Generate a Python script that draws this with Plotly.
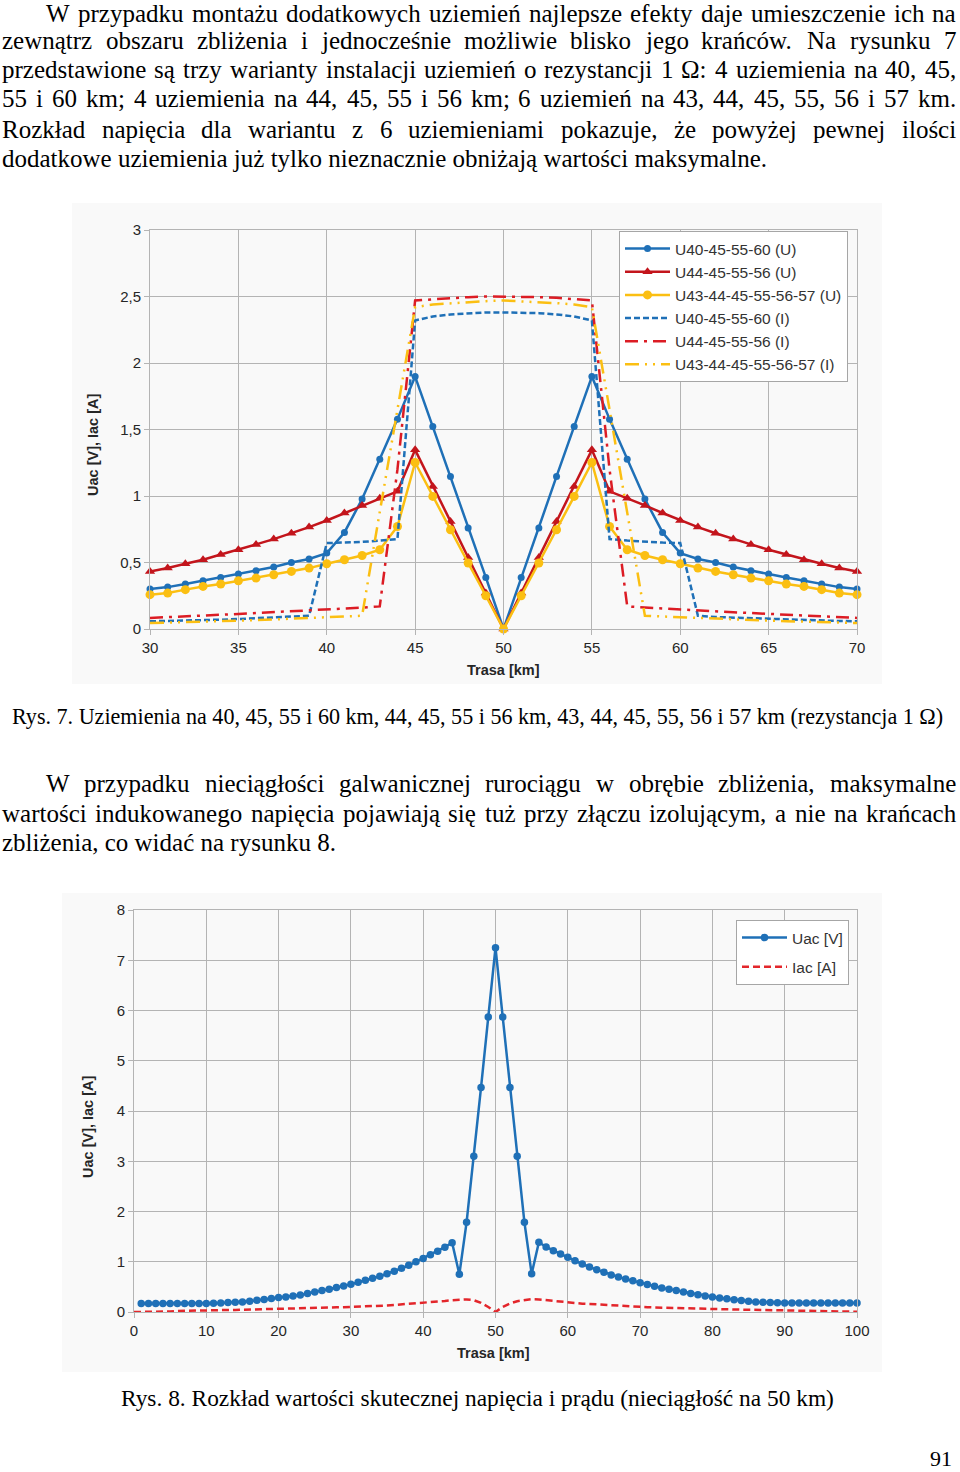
import plotly.graph_objects as go

W, H = 960, 1472

# ---------------- data: Rys. 7 ----------------
km_fig7 = list(range(30, 71))
u_40_45_55_60 = [0.30, 0.315, 0.338, 0.363, 0.388, 0.413, 0.438, 0.466, 0.50, 0.526, 0.571,
                 0.726, 0.977, 1.277, 1.578, 1.898, 1.523, 1.147, 0.759, 0.388, 0.0,
                 0.388, 0.759, 1.147, 1.523, 1.898, 1.578, 1.277, 0.977, 0.726, 0.571,
                 0.526, 0.50, 0.466, 0.438, 0.413, 0.388, 0.363, 0.338, 0.315, 0.30]
u_44_45_55_56 = [0.433, 0.458, 0.49, 0.521, 0.56, 0.596, 0.636, 0.676, 0.72, 0.766, 0.816,
                 0.872, 0.929, 0.984, 1.035, 1.347, 1.072, 0.809, 0.538, 0.27, 0.0,
                 0.27, 0.538, 0.809, 1.072, 1.347, 1.035, 0.984, 0.929, 0.872, 0.816,
                 0.766, 0.72, 0.676, 0.636, 0.596, 0.56, 0.521, 0.49, 0.458, 0.433]
u_43_57 = [0.258, 0.27, 0.296, 0.32, 0.338, 0.363, 0.383, 0.408, 0.433, 0.458, 0.491,
           0.521, 0.553, 0.596, 0.771, 1.252, 0.997, 0.746, 0.496, 0.25, 0.0,
           0.25, 0.496, 0.746, 0.997, 1.252, 0.771, 0.596, 0.553, 0.521, 0.491,
           0.458, 0.433, 0.408, 0.383, 0.363, 0.338, 0.32, 0.296, 0.27, 0.258]
i_40_45_55_60 = [0.058, 0.06, 0.062, 0.065, 0.07, 0.075, 0.08, 0.085, 0.09, 0.10, 0.646,
                 0.65, 0.655, 0.665, 0.676, 2.32, 2.35, 2.365, 2.375, 2.38, 2.38,
                 2.38, 2.375, 2.365, 2.35, 2.32, 0.676, 0.665, 0.655, 0.65, 0.646,
                 0.10, 0.09, 0.085, 0.08, 0.075, 0.07, 0.065, 0.062, 0.06, 0.058]
i_44_45_55_56 = [0.083, 0.088, 0.094, 0.10, 0.106, 0.113, 0.12, 0.126, 0.132, 0.138, 0.145,
                 0.153, 0.161, 0.17, 1.2, 2.47, 2.48, 2.49, 2.495, 2.50, 2.50,
                 2.50, 2.495, 2.49, 2.48, 2.47, 1.2, 0.17, 0.161, 0.153, 0.145,
                 0.138, 0.132, 0.126, 0.12, 0.113, 0.106, 0.10, 0.094, 0.088, 0.083]
i_43_57 = [0.045, 0.048, 0.052, 0.055, 0.059, 0.063, 0.067, 0.072, 0.077, 0.082, 0.088,
           0.094, 0.10, 0.88, 1.65, 2.42, 2.44, 2.45, 2.46, 2.465, 2.47,
           2.465, 2.46, 2.45, 2.44, 2.42, 1.65, 0.88, 0.10, 0.094, 0.088,
           0.082, 0.077, 0.072, 0.067, 0.063, 0.059, 0.055, 0.052, 0.048, 0.045]
names_fig7 = ["U40-45-55-60 (U)", "U44-45-55-56 (U)", "U43-44-45-55-56-57 (U)",
              "U40-45-55-60 (I)", "U44-45-55-56 (I)", "U43-44-45-55-56-57 (I)"]
y7_ticks = [0, 0.5, 1, 1.5, 2, 2.5, 3]
y7_labels = ["0", "0,5", "1", "1,5", "2", "2,5", "3"]
x7_ticks = [30, 35, 40, 45, 50, 55, 60, 65, 70]

# ---------------- data: Rys. 8 ----------------
km_uac = list(range(1, 101))
uac = [0.167, 0.167, 0.167, 0.167, 0.167, 0.167, 0.168, 0.168, 0.17, 0.17,
       0.175, 0.18, 0.187, 0.193, 0.2, 0.215, 0.233, 0.25, 0.267, 0.287,
       0.30, 0.32, 0.34, 0.367, 0.40, 0.427, 0.455, 0.487, 0.515, 0.55,
       0.59, 0.63, 0.67, 0.71, 0.76, 0.81, 0.87, 0.93, 1.0, 1.067,
       1.14, 1.21, 1.29, 1.38, 0.75, 1.785, 3.10, 4.47, 5.87, 7.25,
       5.87, 4.47, 3.10, 1.785, 0.76, 1.387, 1.294, 1.22, 1.155, 1.088,
       1.02, 0.955, 0.896, 0.843, 0.79, 0.737, 0.697, 0.657, 0.62, 0.58,
       0.545, 0.51, 0.48, 0.455, 0.43, 0.40, 0.37, 0.345, 0.32, 0.30,
       0.28, 0.262, 0.245, 0.228, 0.212, 0.20, 0.195, 0.19, 0.185, 0.18,
       0.18, 0.18, 0.18, 0.18, 0.18, 0.18, 0.18, 0.18, 0.18, 0.18]
km_iac = list(range(0, 101))
iac = [0.0, 0.0, 0.0, 0.0, 0.005, 0.01, 0.02, 0.025, 0.03, 0.03, 0.033,
       0.035, 0.038, 0.04, 0.042, 0.045, 0.047, 0.05, 0.052, 0.053, 0.055,
       0.06, 0.065, 0.07, 0.075, 0.08, 0.085, 0.09, 0.093, 0.097, 0.10,
       0.105, 0.11, 0.115, 0.12, 0.13, 0.14, 0.15, 0.16, 0.17, 0.187,
       0.20, 0.21, 0.22, 0.235, 0.245, 0.25, 0.235, 0.18, 0.10, 0.0,
       0.10, 0.17, 0.215, 0.24, 0.255, 0.25, 0.235, 0.215, 0.195, 0.18,
       0.17, 0.165, 0.16, 0.15, 0.145, 0.135, 0.125, 0.115, 0.105, 0.10,
       0.095, 0.09, 0.085, 0.08, 0.075, 0.072, 0.07, 0.065, 0.062, 0.06,
       0.057, 0.054, 0.05, 0.048, 0.045, 0.043, 0.04, 0.037, 0.035, 0.033,
       0.03, 0.027, 0.022, 0.015, 0.008, 0.005, 0.005, 0.005, 0.005, 0.005]
x8_ticks = [0, 10, 20, 30, 40, 50, 60, 70, 80, 90, 100]
y8_ticks = [0, 1, 2, 3, 4, 5, 6, 7, 8]

# ---------------- text ----------------
para1 = [
    "W przypadku montażu dodatkowych uziemień najlepsze efekty daje umieszczenie ich na",
    "zewnątrz obszaru zbliżenia i jednocześnie możliwie blisko jego krańców. Na rysunku 7",
    "przedstawione są trzy warianty instalacji uziemień o rezystancji 1 Ω: 4 uziemienia na 40, 45,",
    "55 i 60 km; 4 uziemienia na 44, 45, 55 i 56 km; 6 uziemień na 43, 44, 45, 55, 56 i 57 km.",
    "Rozkład napięcia dla wariantu z 6 uziemieniami pokazuje, że powyżej pewnej ilości",
    "dodatkowe uziemienia już tylko nieznacznie obniżają wartości maksymalne.",
]
para2 = [
    "W przypadku nieciągłości galwanicznej rurociągu w obrębie zbliżenia, maksymalne",
    "wartości indukowanego napięcia pojawiają się tuż przy złączu izolującym, a nie na krańcach",
    "zbliżenia, co widać na rysunku 8.",
]
caption7 = "Rys. 7. Uziemienia na 40, 45, 55 i 60 km, 44, 45, 55 i 56 km, 43, 44, 45, 55, 56 i 57 km (rezystancja 1 Ω)"
caption8 = "Rys. 8. Rozkład wartości skutecznej napięcia i prądu (nieciągłość na 50 km)"
page_no = "91"

SERIF = "Liberation Serif"
SANS = "Liberation Sans"

def px_x(p):
    return p / W

def px_y(p):
    return 1 - p / H

# Times metrics (per 1000 em) for justification
TW = {' ': 250, ',': 250, '.': 250, ':': 278, ';': 278, '(': 333, ')': 333, 'Ω': 768,
      'a': 444, 'b': 500, 'c': 444, 'd': 500, 'e': 444, 'f': 333, 'g': 500, 'h': 500,
      'i': 278, 'j': 278, 'k': 500, 'l': 278, 'm': 778, 'n': 500, 'o': 500, 'p': 500,
      'q': 500, 'r': 333, 's': 389, 't': 278, 'u': 500, 'v': 500, 'w': 722, 'x': 500,
      'y': 500, 'z': 444, 'ą': 444, 'ę': 444, 'ć': 444, 'ł': 278, 'ń': 500, 'ó': 500,
      'ś': 389, 'ź': 444, 'ż': 444, 'W': 944, 'N': 722, 'R': 667, 'U': 722}

def tw(s, size):
    return sum(TW.get(c, 500) for c in s) / 1000 * size

annotations = []

def add_line(text, left, right, ypx, size, justify):
    if not justify:
        annotations.append(dict(text=text, x=px_x(left), y=px_y(ypx), xref="paper", yref="paper",
                                xanchor="left", yanchor="middle", showarrow=False, borderpad=0,
                                font=dict(family=SERIF, size=size, color="black")))
        return
    words = text.split(" ")
    widths = [tw(w, size) for w in words]
    gap = (right - left - sum(widths)) / (len(words) - 1)
    x = left
    for w, wd in zip(words, widths):
        annotations.append(dict(text=w, x=px_x(x), y=px_y(ypx), xref="paper", yref="paper",
                                xanchor="left", yanchor="middle", showarrow=False, borderpad=0,
                                font=dict(family=SERIF, size=size, color="black")))
        x += wd + gap

BODY = 25
LEFT = 1
p1_y = [13, 41, 70, 99, 129, 158]
for i, (line, y) in enumerate(zip(para1, p1_y)):
    add_line(line, 45 if i == 0 else LEFT, 955, y, BODY, i < len(para1) - 1)
p2_y = [783, 813, 842]
for i, (line, y) in enumerate(zip(para2, p2_y)):
    add_line(line, 45 if i == 0 else LEFT, 955, y, BODY, i < len(para2) - 1)

for txt, y, sz in [(caption7, 716, 22.1), (caption8, 1398, 23.4)]:
    annotations.append(dict(text=txt, x=px_x(477.5), y=px_y(y), xref="paper", yref="paper",
                            xanchor="center", yanchor="middle", showarrow=False,
                            font=dict(family=SERIF, size=sz, color="black")))
annotations.append(dict(text=page_no, x=px_x(953), y=px_y(1458), xref="paper", yref="paper",
                        xanchor="right", yanchor="middle", showarrow=False, borderpad=0,
                        font=dict(family=SERIF, size=22, color="black")))

# axis titles
AX_FONT = dict(family=SANS, size=14.5, color="#262626")
for txt, x, y, ang in [("<b>Trasa [km]</b>", 503, 670, 0), ("<b>Uac [V], Iac [A]</b>", 93, 445, -90),
                       ("<b>Trasa [km]</b>", 494, 1353, 0), ("<b>Uac [V], Iac [A]</b>", 88, 1127, -90)]:
    annotations.append(dict(text=txt, x=px_x(x), y=px_y(y), xref="paper", yref="paper",
                            xanchor="center", yanchor="middle", showarrow=False, textangle=ang,
                            font=AX_FONT))

# ---------------- figure ----------------
BLUE = "#1f70b7"
RED = "#c3151c"
RED2 = "#dc1c24"
YEL = "#fbbf12"

fig = go.Figure()
fig.add_trace(go.Scatter(x=km_fig7, y=u_40_45_55_60, name=names_fig7[0], legendgroup="a",
                         mode="lines+markers", line=dict(color=BLUE, width=2.5),
                         marker=dict(symbol="circle", size=7, color=BLUE), cliponaxis=False))
fig.add_trace(go.Scatter(x=km_fig7, y=u_44_45_55_56, name=names_fig7[1], legendgroup="b",
                         mode="lines+markers", line=dict(color=RED, width=2.5),
                         marker=dict(symbol="triangle-up", size=9, color=RED), cliponaxis=False))
fig.add_trace(go.Scatter(x=km_fig7, y=u_43_57, name=names_fig7[2], legendgroup="c",
                         mode="lines+markers", line=dict(color=YEL, width=2.5),
                         marker=dict(symbol="circle", size=9, color=YEL), cliponaxis=False))
fig.add_trace(go.Scatter(x=km_fig7, y=i_40_45_55_60, name=names_fig7[3], legendgroup="d",
                         mode="lines", line=dict(color=BLUE, width=2.5, dash="6px,3px")))
fig.add_trace(go.Scatter(x=km_fig7, y=i_44_45_55_56, name=names_fig7[4], legendgroup="e",
                         mode="lines", line=dict(color=RED2, width=2.5, dash="13px,6px,3px,6px")))
fig.add_trace(go.Scatter(x=km_fig7, y=i_43_57, name=names_fig7[5], legendgroup="f",
                         mode="lines", line=dict(color=YEL, width=2.5, dash="14px,6px,2px,6px,2px,6px")))

fig.add_trace(go.Scatter(x=km_uac, y=uac, name="Uac [V]", legendgroup="g", legend="legend2",
                         xaxis="x2", yaxis="y2", mode="lines+markers",
                         line=dict(color=BLUE, width=2.5),
                         marker=dict(symbol="circle", size=7.5, color=BLUE), cliponaxis=False))
fig.add_trace(go.Scatter(x=km_iac, y=iac, name="Iac [A]", legendgroup="h", legend="legend2",
                         xaxis="x2", yaxis="y2", mode="lines",
                         line=dict(color="#e3262b", width=2.5, dash="7px,4px")))

GRID = "#b4b4b4"
TICKF = dict(family=SANS, size=15, color="#262626")
common = dict(showgrid=True, gridcolor=GRID, gridwidth=1, showline=True, linecolor=GRID,
              linewidth=1, mirror=True, zeroline=False, ticks="outside", ticklen=5,
              tickcolor=GRID, tickfont=TICKF, fixedrange=True, automargin=False)

fig.update_layout(
    width=W, height=H, margin=dict(l=0, r=0, t=0, b=0, pad=0, autoexpand=False), autosize=False,
    paper_bgcolor="white", plot_bgcolor="rgba(0,0,0,0)",
    xaxis=dict(domain=[px_x(150), px_x(857)], range=[30, 70], tickvals=x7_ticks, anchor="y", **common),
    yaxis=dict(domain=[px_y(629), px_y(230)], range=[0, 3], tickvals=y7_ticks, ticktext=y7_labels,
               anchor="x", **common),
    xaxis2=dict(domain=[px_x(134), px_x(857)], range=[0, 100], tickvals=x8_ticks, anchor="y2", **common),
    yaxis2=dict(domain=[px_y(1312), px_y(910)], range=[0, 8], tickvals=y8_ticks, anchor="x2", **common),
    legend=dict(x=px_x(619), y=px_y(231), xanchor="left", yanchor="top", bgcolor="white",
                bordercolor="#a6a6a6", borderwidth=1, traceorder="grouped", tracegroupgap=0,
                itemwidth=45, font=dict(family=SANS, size=15.5, color="#333333")),
    legend2=dict(x=px_x(736), y=px_y(920), xanchor="left", yanchor="top", bgcolor="white",
                 bordercolor="#a6a6a6", borderwidth=1, traceorder="grouped", tracegroupgap=6,
                 itemwidth=45, font=dict(family=SANS, size=15.5, color="#333333")),
    annotations=annotations,
    shapes=[
        dict(type="rect", xref="paper", yref="paper", x0=px_x(72), x1=px_x(882), y0=px_y(684), y1=px_y(203),
             fillcolor="#f9f9f9", line=dict(width=0), layer="below"),
        dict(type="rect", xref="paper", yref="paper", x0=px_x(62), x1=px_x(882), y0=px_y(1372), y1=px_y(893),
             fillcolor="#f9f9f9", line=dict(width=0), layer="below"),
    ],
    showlegend=True,
)

fig.write_html("out.html")
